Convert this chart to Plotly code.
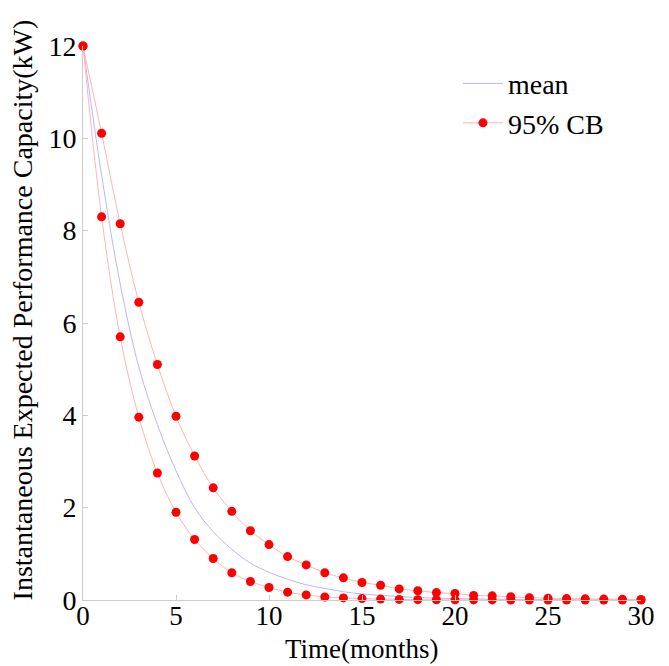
import plotly.graph_objects as go

months = list(range(0, 31))
mean_vals = [12, 9.2, 6.85, 5.05, 3.8, 2.8, 2.0, 1.48, 1.1, 0.8, 0.6, 0.45, 0.33, 0.25,
             0.18, 0.13, 0.1, 0.075, 0.055, 0.04, 0.03, 0.022, 0.016, 0.012, 0.009,
             0.007, 0.005, 0.004, 0.003, 0.002, 0.002]
upper_cb = [12, 10.11, 8.15, 6.45, 5.10, 3.98, 3.12, 2.43, 1.92, 1.50, 1.20, 0.94, 0.76,
            0.59, 0.48, 0.38, 0.32, 0.24, 0.20, 0.16, 0.14, 0.10, 0.09, 0.07, 0.05, 0.04,
            0.03, 0.025, 0.02, 0.015, 0.012]
lower_cb = [12, 8.30, 5.70, 3.96, 2.75, 1.90, 1.31, 0.90, 0.59, 0.40, 0.27, 0.17, 0.11,
            0.065, 0.045, 0.03, 0.02, 0.013, 0.008, 0.005, 0.003, 0.002, 0.002, 0.001,
            0.001, 0.001, 0.0, 0.0, 0.0, 0.0, 0.0]

x_ticks = [0, 5, 10, 15, 20, 25, 30]
y_ticks = [0, 2, 4, 6, 8, 10, 12]

serif = "Liberation Serif"

fig = go.Figure()
fig.add_trace(go.Scatter(
    x=months, y=mean_vals, mode="lines", name="mean",
    line=dict(color="#b8b8ff", width=1, shape="spline"),
    cliponaxis=False,
))
fig.add_trace(go.Scatter(
    x=months, y=upper_cb, mode="lines+markers", name="95% CB",
    line=dict(color="#ffb4b4", width=1, shape="spline"),
    marker=dict(color="#ff0000", size=9),
    cliponaxis=False, legendgroup="cb",
))
fig.add_trace(go.Scatter(
    x=months, y=lower_cb, mode="lines+markers", name="95% CB",
    line=dict(color="#ffb4b4", width=1, shape="spline"),
    marker=dict(color="#ff0000", size=9),
    cliponaxis=False, legendgroup="cb", showlegend=False,
))

fig.update_layout(
    width=669, height=666,
    margin=dict(l=83, r=28, t=46, b=66),
    paper_bgcolor="white", plot_bgcolor="white",
    font=dict(family=serif, size=26, color="black"),
    showlegend=True,
    legend=dict(x=0.672, y=0.977, xanchor="left", yanchor="top",
                bgcolor="rgba(0,0,0,0)", font=dict(size=28, family=serif),
                tracegroupgap=0, itemwidth=40),
    xaxis=dict(
        range=[0, 30], tickmode="array", tickvals=x_ticks,
        ticks="inside", ticklen=5, tickcolor="#cccccc",
        showline=True, linecolor="#cccccc", linewidth=1,
        showgrid=False, zeroline=False, automargin=False,
        tickfont=dict(size=27, family=serif), ticklabelstandoff=-8,
    ),
    yaxis=dict(
        range=[0, 12], tickmode="array", tickvals=y_ticks,
        ticks="inside", ticklen=5, tickcolor="#cccccc",
        showline=True, linecolor="#cccccc", linewidth=1,
        showgrid=False, zeroline=False, automargin=False,
        tickfont=dict(size=28, family=serif),
    ),
    annotations=[
        dict(
            text="Instantaneous Expected Performance Capacity(kW)",
            xref="paper", yref="paper", x=-0.109, y=0.523,
            xanchor="center", yanchor="middle", textangle=-90, showarrow=False,
            font=dict(size=28, family=serif, color="black"),
        ),
        dict(
            text="Time(months)",
            xref="paper", yref="paper", x=0.5, y=-0.1185,
            xanchor="center", yanchor="bottom", showarrow=False,
            font=dict(size=27, family=serif, color="black"),
        ),
    ],
)

fig.write_html("out.html")
